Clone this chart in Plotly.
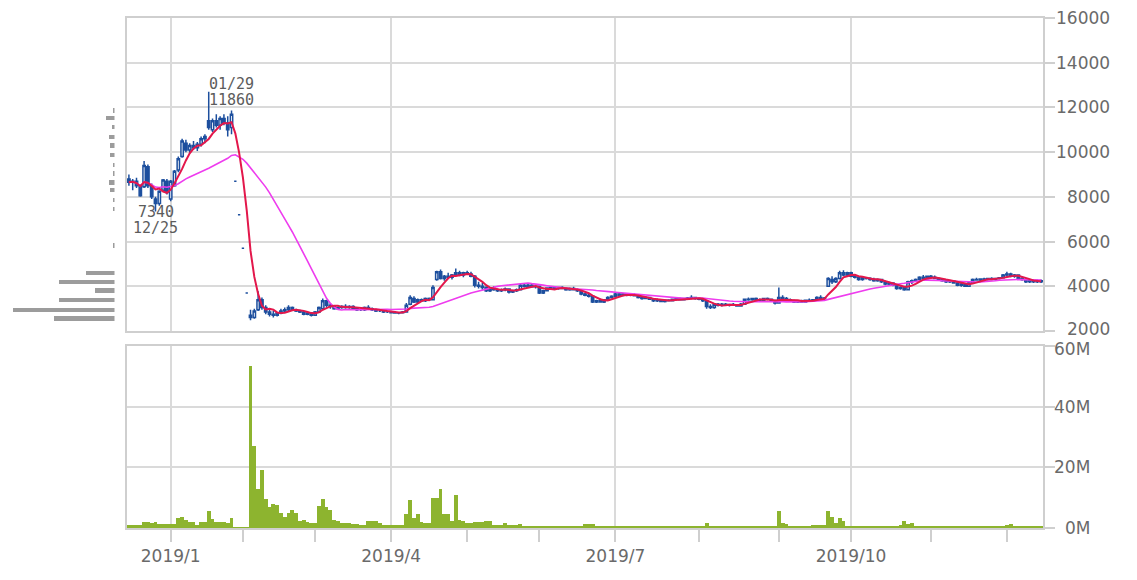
import pandas as pd
import plotly.graph_objects as go

# ---------------- data ----------------
holidays = ["2018-12-24", "2018-12-31", "2019-01-01", "2019-01-02", "2019-01-03",
            "2019-01-14", "2019-02-11", "2019-03-21", "2019-04-29", "2019-04-30",
            "2019-05-01", "2019-05-02", "2019-05-03", "2019-05-06", "2019-07-15",
            "2019-08-12", "2019-09-16", "2019-09-23", "2019-10-14", "2019-10-22",
            "2019-11-04"]
dates = pd.bdate_range("2018-12-13", "2019-12-13", freq="C", holidays=holidays)

open_ = [8800, 8650, 8700, 8500, 8450, 9350, 8500, 7900, 7700, 8300,
         8700, 7900, 8500, 9200, 9800, 10400, 10100, 10300, 10200, 10350,
         10600, 11400, 11000, 11400, 11200, 11500, 11300, 11100, 8700, 7200,
         5700, 3700, 2700, 2600, 2950, 3400, 3050, 2850, 2750, 2700,
         2800, 2900, 2950, 3050, 2950, 2900, 2850, 2750, 2800, 2700,
         2850, 3000, 3350, 3150, 3100, 3000, 3050, 3100, 3050, 3100,
         3000, 2950, 2950, 3050, 3000, 2950, 2900, 2900, 2850, 2850,
         2820, 2800, 2820, 2850, 3200, 3450, 3300, 3400, 3350, 3450,
         3400, 4300, 4650, 4350, 4450, 4400, 4500, 4600, 4500, 4600,
         4550, 4450, 4050, 4000, 3950, 3800, 3900, 3850, 3800, 3850,
         3880, 3750, 3800, 3850, 4050, 4000, 4050, 3980, 4000, 3700,
         3800, 3920, 3950, 3900, 3950, 3900, 3850, 3900, 3850, 3800,
         3650, 3600, 3550, 3300, 3350, 3300, 3400, 3500, 3550, 3650,
         3600, 3650, 3600, 3620, 3580, 3500, 3450, 3500, 3420, 3350,
         3400, 3320, 3380, 3350, 3420, 3450, 3400, 3450, 3480, 3500,
         3450, 3420, 3350, 3100, 3050, 3200, 3150, 3200, 3150, 3180,
         3150, 3120, 3200, 3420, 3400, 3450, 3400, 3350, 3450, 3420,
         3350, 3250, 3500, 3450, 3400, 3350, 3300, 3350, 3300, 3380,
         3350, 3400, 3500, 3450, 4000, 4300, 4200, 4350, 4600, 4500,
         4600, 4450, 4400, 4300, 4380, 4350, 4300, 4250, 4300, 4200,
         4100, 4150, 4050, 3900, 3950, 3850, 4200, 4250, 4300, 4400,
         4350, 4450, 4400, 4350, 4300, 4250, 4200, 4250, 4150, 4050,
         4100, 4000, 4150, 4300, 4280, 4330, 4300, 4350, 4300, 4350,
         4380, 4500, 4550, 4450, 4500, 4350, 4300, 4200, 4250, 4200,
         4250]
high = [9000, 8800, 8850, 8550, 9600, 9450, 8600, 8000, 8300, 8800,
        8800, 8750, 9200, 9800, 10600, 10550, 10400, 10500, 10450, 10700,
        10800, 12700, 11500, 11700, 11600, 11700, 11600, 11860, 8700, 7200,
        5700, 3700, 2950, 3000, 3780, 3500, 3150, 3000, 2900, 2850,
        3000, 3050, 3150, 3100, 3000, 2950, 2900, 2850, 2850, 2900,
        3100, 3450, 3400, 3250, 3150, 3100, 3150, 3200, 3150, 3150,
        3050, 3000, 3100, 3150, 3050, 3000, 2950, 2950, 2900, 2900,
        2900, 2850, 2900, 3250, 3600, 3550, 3450, 3450, 3500, 3500,
        4050, 4700, 4750, 4500, 4600, 4550, 4800, 4700, 4650, 4700,
        4650, 4500, 4200, 4150, 4000, 3950, 4000, 3900, 3900, 3950,
        3900, 3850, 3900, 4100, 4100, 4100, 4100, 4050, 4020, 3850,
        3950, 4000, 4000, 3980, 4000, 3950, 3950, 3980, 3900, 3820,
        3700, 3650, 3560, 3400, 3450, 3420, 3550, 3600, 3700, 3700,
        3700, 3680, 3650, 3680, 3600, 3550, 3550, 3520, 3450, 3450,
        3420, 3400, 3420, 3450, 3480, 3500, 3480, 3520, 3600, 3520,
        3500, 3450, 3380, 3200, 3250, 3250, 3250, 3250, 3220, 3250,
        3200, 3250, 3450, 3500, 3480, 3500, 3450, 3480, 3500, 3450,
        3400, 3950, 3600, 3520, 3450, 3400, 3380, 3400, 3400, 3450,
        3420, 3550, 3600, 3520, 4400, 4450, 4400, 4700, 4720, 4650,
        4650, 4550, 4450, 4420, 4420, 4400, 4380, 4350, 4330, 4250,
        4200, 4180, 4100, 4000, 4000, 4250, 4300, 4350, 4450, 4500,
        4480, 4500, 4480, 4420, 4350, 4300, 4280, 4280, 4200, 4150,
        4150, 4200, 4350, 4380, 4350, 4380, 4370, 4400, 4380, 4420,
        4550, 4650, 4600, 4550, 4520, 4420, 4350, 4300, 4300, 4300,
        4300]
low = [8500, 8300, 8400, 8000, 8400, 8400, 7900, 7340, 7600, 8250,
       8100, 7800, 8450, 9100, 9750, 10000, 9950, 10100, 10050, 10250,
       10400, 11000, 10900, 11100, 11000, 11200, 10700, 10800, 8700, 7200,
       5700, 3700, 2480, 2550, 2900, 2950, 2750, 2650, 2600, 2650,
       2750, 2850, 2900, 2900, 2850, 2800, 2700, 2700, 2650, 2680,
       2800, 2950, 3050, 3000, 2950, 2950, 3000, 3000, 3000, 2950,
       2900, 2900, 2900, 2950, 2900, 2850, 2850, 2800, 2800, 2780,
       2770, 2750, 2780, 2820, 3150, 3250, 3250, 3300, 3300, 3350,
       3380, 4250, 4300, 4250, 4350, 4300, 4450, 4450, 4400, 4500,
       4400, 3950, 3900, 3850, 3750, 3750, 3800, 3750, 3750, 3780,
       3680, 3700, 3750, 3820, 3950, 3950, 3950, 3900, 3650, 3650,
       3780, 3850, 3880, 3850, 3870, 3800, 3800, 3820, 3750, 3600,
       3550, 3500, 3250, 3250, 3280, 3250, 3380, 3450, 3500, 3550,
       3550, 3550, 3550, 3550, 3450, 3400, 3420, 3400, 3300, 3300,
       3300, 3280, 3320, 3330, 3380, 3380, 3370, 3400, 3420, 3400,
       3380, 3300, 3000, 2980, 3000, 3100, 3100, 3120, 3100, 3120,
       3080, 3100, 3180, 3350, 3350, 3380, 3300, 3330, 3380, 3320,
       3180, 3230, 3400, 3350, 3320, 3250, 3250, 3280, 3280, 3320,
       3300, 3380, 3420, 3400, 3980, 4100, 4150, 4300, 4450, 4450,
       4400, 4350, 4250, 4250, 4300, 4250, 4200, 4200, 4150, 4050,
       4050, 4000, 3850, 3850, 3800, 3830, 4100, 4200, 4250, 4300,
       4300, 4350, 4320, 4280, 4200, 4150, 4150, 4120, 4000, 3980,
       3980, 3980, 4130, 4250, 4220, 4250, 4260, 4280, 4250, 4300,
       4350, 4450, 4400, 4380, 4300, 4250, 4150, 4150, 4150, 4150,
       4150]
close = [8650, 8700, 8500, 8050, 9400, 8500, 8000, 7700, 8250, 8750,
         8200, 8700, 9150, 9700, 10500, 10100, 10300, 10200, 10350, 10600,
         10700, 11100, 11400, 11200, 11500, 11300, 11000, 11700, 8700, 7200,
         5700, 3700, 2600, 2900, 3400, 3050, 2850, 2750, 2700, 2800,
         2900, 2950, 3050, 2950, 2900, 2850, 2750, 2800, 2700, 2850,
         3050, 3350, 3150, 3100, 3000, 3050, 3100, 3050, 3100, 3000,
         2950, 2950, 3050, 3000, 2950, 2900, 2900, 2850, 2850, 2820,
         2800, 2820, 2850, 3150, 3500, 3300, 3400, 3350, 3450, 3400,
         3950, 4650, 4350, 4450, 4400, 4500, 4600, 4500, 4600, 4550,
         4450, 4050, 4000, 3950, 3800, 3900, 3850, 3800, 3850, 3880,
         3750, 3800, 3850, 4050, 4000, 4050, 3980, 4000, 3700, 3800,
         3920, 3950, 3900, 3950, 3900, 3850, 3900, 3850, 3800, 3650,
         3600, 3550, 3300, 3350, 3300, 3400, 3500, 3550, 3650, 3600,
         3650, 3600, 3620, 3580, 3500, 3450, 3500, 3420, 3350, 3400,
         3320, 3380, 3350, 3420, 3450, 3400, 3450, 3480, 3500, 3450,
         3420, 3350, 3100, 3050, 3200, 3150, 3200, 3150, 3180, 3150,
         3120, 3200, 3420, 3400, 3450, 3400, 3350, 3450, 3420, 3350,
         3250, 3500, 3450, 3400, 3350, 3300, 3350, 3300, 3380, 3350,
         3400, 3500, 3450, 3480, 4350, 4200, 4350, 4600, 4500, 4600,
         4450, 4400, 4300, 4380, 4350, 4300, 4250, 4300, 4200, 4100,
         4150, 4050, 3900, 3950, 3850, 4200, 4250, 4300, 4400, 4350,
         4450, 4400, 4350, 4300, 4250, 4200, 4250, 4150, 4050, 4100,
         4000, 4150, 4300, 4280, 4330, 4300, 4350, 4300, 4350, 4380,
         4500, 4550, 4450, 4500, 4350, 4300, 4200, 4250, 4200, 4250,
         4200]
volume_m = [1.0, 1.0, 1.1, 1.0, 2.0, 2.0, 1.5, 2.0, 1.4, 1.4,
            1.4, 1.4, 1.4, 3.2, 3.7, 2.6, 2.0, 2.0, 1.1, 2.0,
            2.0, 5.7, 3.0, 2.0, 2.0, 2.0, 1.5, 3.2, 0.2, 0.2,
            0.2, 0.2, 53.4, 26.9, 13.0, 19.0, 9.4, 7.0, 7.8, 7.5,
            5.1, 3.7, 4.8, 6.1, 5.0, 2.3, 2.6, 2.1, 1.5, 1.5,
            7.2, 9.4, 7.0, 6.0, 2.8, 2.4, 1.7, 1.5, 1.5, 1.4,
            1.4, 1.1, 1.1, 2.4, 2.4, 2.4, 1.5, 0.9, 0.9, 0.9,
            0.9, 0.9, 0.9, 4.6, 9.2, 3.2, 4.6, 2.1, 1.5, 1.5,
            10.0, 10.0, 13.0, 4.6, 4.6, 2.4, 11.0, 2.6, 2.2, 1.5,
            1.5, 2.0, 2.0, 2.0, 2.4, 2.4, 0.9, 0.9, 0.9, 1.5,
            0.9, 0.9, 0.9, 1.2, 0.5, 0.5, 0.5, 0.7, 0.7, 0.4,
            0.7, 0.7, 0.4, 0.4, 0.4, 0.4, 0.7, 0.4, 0.7, 0.4,
            1.2, 1.2, 1.2, 0.7, 0.4, 0.4, 0.4, 0.4, 0.4, 0.4,
            0.4, 0.4, 0.4, 0.4, 0.4, 0.4, 0.4, 0.4, 0.4, 0.4,
            0.4, 0.4, 0.4, 0.4, 0.4, 0.4, 0.4, 0.4, 0.4, 0.4,
            0.4, 0.4, 1.8, 0.8, 0.4, 0.4, 0.4, 0.4, 0.4, 0.4,
            0.4, 0.4, 0.7, 0.7, 0.4, 0.4, 0.4, 0.4, 0.4, 0.4,
            0.4, 5.5, 1.6, 1.2, 0.7, 0.4, 0.4, 0.4, 0.7, 0.4,
            0.9, 0.9, 0.9, 0.9, 5.5, 3.6, 1.8, 3.3, 2.3, 0.7,
            0.7, 0.7, 0.7, 0.7, 0.4, 0.4, 0.4, 0.7, 0.4, 0.4,
            0.7, 0.4, 0.4, 0.9, 2.3, 1.3, 1.8, 0.7, 0.7, 0.7,
            0.7, 0.7, 0.7, 0.7, 0.4, 0.4, 0.4, 0.4, 0.7, 0.4,
            0.4, 0.4, 0.4, 0.4, 0.4, 0.4, 0.4, 0.4, 0.4, 0.4,
            0.4, 0.9, 1.2, 0.7, 0.4, 0.4, 0.4, 0.4, 0.4, 0.4,
            0.4]

# volume-by-price profile (price level, volume in M)
vp_price = [11860, 11530, 11110, 10680, 10300, 9860, 9420, 9040, 8640, 8300,
            7860, 7460, 5830, 4610, 4190, 3810, 3390, 2940, 2560]
vp_volume = [2.0, 9.0, 2.3, 6.0, 5.0, 4.3, 2.0, 2.0, 6.0, 4.3,
             2.0, 2.0, 1.5, 28.7, 56.0, 20.0, 56.0, 101.7, 61.0]

price_ticks = [2000, 4000, 6000, 8000, 10000, 12000, 14000, 16000]
volume_ticks = [0, 20, 40, 60]
volume_tick_text = ["0M", "20M", "40M", "60M"]
high_mark = ("2019-01-29", "01/29", 11860)
low_mark = ("2018-12-25", "12/25", 7340)

# ---------------- derived ----------------
x = list(range(len(close)))
ma5 = pd.Series(close).rolling(5, min_periods=1).mean()
ma25 = pd.Series(close).rolling(25, min_periods=1).mean()

month_idx, quarter_idx, quarter_txt = [], [], []
prev = None
for i, d in enumerate(dates):
    key = (d.year, d.month)
    if prev is not None and key != prev:
        month_idx.append(i)
        if d.month in (1, 4, 7, 10):
            quarter_idx.append(i)
            quarter_txt.append(f"{d.year}/{d.month}")
    prev = key

date_pos = {d.strftime("%Y-%m-%d"): i for i, d in enumerate(dates)}

# ---------------- layout geometry (page body has an 8px margin) ----------------
OFF = 8
W, H = 1137 - 2 * OFF, 580 - 2 * OFF
ML, MT = 0, 18 - OFF
plot_right = 1043 - OFF
plot_bottom = 528 - OFF
MR = W - plot_right
MB = H - plot_bottom
PW = W - ML - MR
PH = H - MT - MB
price_left = 127 - OFF
profile_right = 114.5 - OFF
price_dom = [(528 - 331) / PH, 1.0]
vol_dom = [0.0, (528 - 346) / PH]

BLUE = "#1d4f9e"
GRID = "#dadada"
FRAME = "#cfcfcf"
TXT = "#6a6a6a"

fig = go.Figure()

fig.add_trace(go.Bar(
    x=vp_volume, y=vp_price, orientation="h", width=190,
    marker=dict(color="#9c9c9c", line=dict(width=0)),
    xaxis="x3", yaxis="y3", hoverinfo="skip"))

fig.add_trace(go.Candlestick(
    x=x, open=open_, high=high, low=low, close=close,
    increasing=dict(line=dict(color=BLUE, width=1.5), fillcolor="white"),
    decreasing=dict(line=dict(color=BLUE, width=1.5), fillcolor=BLUE),
    whiskerwidth=0, xaxis="x", yaxis="y"))

fig.add_trace(go.Scatter(x=x, y=ma25, mode="lines",
                         line=dict(color="#ee3cee", width=1.6),
                         xaxis="x", yaxis="y"))
fig.add_trace(go.Scatter(x=x, y=ma5, mode="lines",
                         line=dict(color="#e3174b", width=2),
                         xaxis="x", yaxis="y"))

fig.add_trace(go.Bar(x=x, y=volume_m, width=1.0,
                     marker=dict(color="#8db42f", line=dict(width=0)),
                     xaxis="x2", yaxis="y2"))

xr = [-0.5, len(close) - 0.5]

fig.update_layout(
    width=W, height=H,
    margin=dict(l=ML, r=MR, t=MT, b=MB),
    paper_bgcolor="white", plot_bgcolor="white",
    showlegend=False, bargap=0, boxgap=0.12,
    xaxis=dict(domain=[price_left / PW, 1], anchor="y", range=xr,
               tickmode="array", tickvals=quarter_idx, showticklabels=False,
               ticks="", showgrid=True, gridcolor=GRID, gridwidth=2,
               showline=True, linecolor=FRAME, linewidth=2, mirror=True,
               zeroline=False, rangeslider=dict(visible=False)),
    yaxis=dict(domain=price_dom, anchor="x", side="right", range=[2000, 16000],
               tickmode="array", tickvals=price_ticks, showticklabels=False,
               ticks="outside", ticklen=10, tickcolor=FRAME, tickwidth=2,
               showgrid=True, gridcolor=GRID, gridwidth=2,
               showline=True, linecolor=FRAME, linewidth=2, mirror=True,
               zeroline=False),
    xaxis2=dict(domain=[price_left / PW, 1], anchor="y2", range=xr, matches="x",
                tickmode="array", tickvals=quarter_idx, ticktext=quarter_txt,
                ticks="outside", ticklen=12, tickcolor=FRAME, tickwidth=2,
                tickfont=dict(family="DejaVu Sans", size=17, color=TXT),
                minor=dict(tickmode="array", tickvals=month_idx, ticks="outside",
                           ticklen=12, tickcolor=FRAME, tickwidth=2, showgrid=False),
                showgrid=True, gridcolor=GRID, gridwidth=2,
                showline=True, linecolor=FRAME, linewidth=2, mirror=True,
                zeroline=False),
    yaxis2=dict(domain=vol_dom, anchor="x2", side="right", range=[0, 60],
                tickmode="array", tickvals=volume_ticks, showticklabels=False,
                ticks="outside", ticklen=10, tickcolor=FRAME, tickwidth=2,
                showgrid=True, gridcolor=GRID, gridwidth=2,
                showline=True, linecolor=FRAME, linewidth=2, mirror=True,
                zeroline=False),
    xaxis3=dict(domain=[0, profile_right / PW], anchor="y3",
                range=[profile_right - 0.0, 0], visible=False, fixedrange=True),
    yaxis3=dict(domain=price_dom, anchor="x3", range=[2000, 16000],
                visible=False, showgrid=False, fixedrange=True),
)

ann = []
tick_font = dict(family="DejaVu Sans", size=17, color=TXT)
for v in price_ticks:
    ann.append(dict(xref="paper", yref="y", x=(1112 - OFF) / PW, y=v, text=str(v),
                    xanchor="right", yanchor="middle", showarrow=False,
                    yshift=2 if v == price_ticks[0] else 0,
                    font=tick_font))
for v, t in zip(volume_ticks, volume_tick_text):
    ann.append(dict(xref="paper", yref="y2", x=(1092 - OFF) / PW, y=v, text=t,
                    xanchor="right", yanchor="middle", showarrow=False,
                    yshift=-3 if v == volume_ticks[-1] else 0,
                    font=tick_font))

mark_font = dict(family="DejaVu Sans Mono", size=15, color="#5c5c5c")
hi_i = date_pos[high_mark[0]]
ann.append(dict(x=hi_i, y=high_mark[2], xref="x", yref="y", text=str(high_mark[2]),
                xanchor="center", yanchor="bottom", yshift=0, showarrow=False,
                font=mark_font))
ann.append(dict(x=hi_i, y=high_mark[2], xref="x", yref="y", text=high_mark[1],
                xanchor="center", yanchor="bottom", yshift=16, showarrow=False,
                font=mark_font))
lo_i = date_pos[low_mark[0]]
ann.append(dict(x=lo_i, y=low_mark[2], xref="x", yref="y", text=str(low_mark[2]),
                xanchor="center", yanchor="middle", yshift=0, showarrow=False,
                font=mark_font))
ann.append(dict(x=lo_i, y=low_mark[2], xref="x", yref="y", text=low_mark[1],
                xanchor="center", yanchor="middle", yshift=-16, showarrow=False,
                font=mark_font))
fig.update_layout(annotations=ann)

fig.write_html("out.html")
